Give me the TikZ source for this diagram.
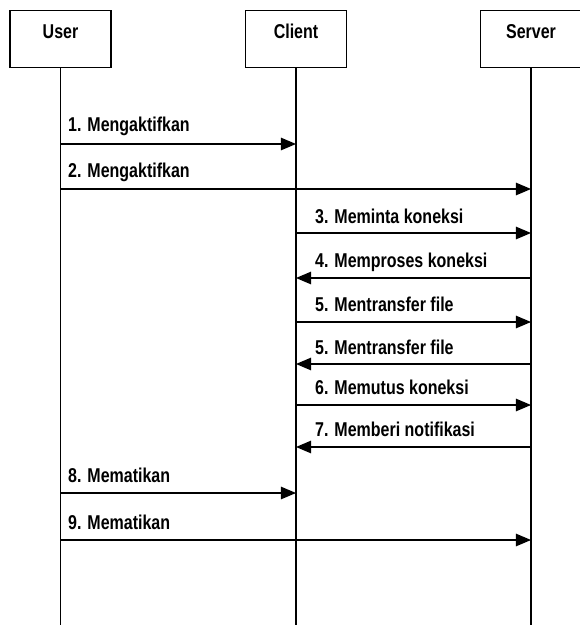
\documentclass[tikz,border=0pt]{standalone}
\usepackage{fontspec}
\setmainfont{Liberation Sans}[FakeStretch=0.8]
\usepackage{tikz}
\usetikzlibrary{calc}
\usetikzlibrary{arrows}
\tikzstyle{every node}=[font=\bfseries\fontsize{20}{22}\selectfont]
\tikzstyle{actor}=[draw,line width=1.3pt,minimum width=101pt,minimum height=57pt,anchor=north,text height=15pt,text depth=17pt,inner sep=0pt]
\tikzstyle{lifeline}=[line width=1.1pt]
\tikzstyle{msg}=[->,line width=2.6pt]
\tikzstyle{lbl}=[anchor=base west,inner sep=0pt]

\begin{document}
\begin{tikzpicture}[line cap=butt,line join=miter,>=triangle 45,x=1pt,y=1pt]
            \useasboundingbox (0,0) rectangle (580,-625);
            \node [actor] (user) at (60.5,-10) {User};
            \node [actor] (client) at (296,-10) {Client};
            \node [actor] (server) at (531,-10) {Server};
            \coordinate (userend) at (user.south |- 0,-625);
            \coordinate (clientend) at (client.south |- 0,-625);
            \coordinate (serverend) at (server.south |- 0,-625);
            \draw [lifeline] (user.south) -- (userend);
            \draw [lifeline] (client.south) -- (clientend);
            \draw [lifeline] (server.south) -- (serverend);
            % user -> client / server
            \draw [msg] (user |- 0,-144) -- (client |- 0,-144);
            \node [lbl] (m1) at (68,-131) {1. Mengaktifkan};
            \draw [msg] (user |- 0,-189) -- (server |- 0,-189);
            \node [lbl] (m2) at (68,-177) {2. Mengaktifkan};
            % client <-> server
            \draw [msg] (client |- 0,-233) -- (server |- 0,-233);
            \node [lbl] (m3) at (315,-223) {3. Meminta koneksi};
            \draw [msg] (server |- 0,-278) -- (client |- 0,-278);
            \node [lbl] (m4) at (315,-267) {4. Memproses koneksi};
            \draw [msg] (client |- 0,-322) -- (server |- 0,-322);
            \node [lbl] (m5) at (315,-311) {5. Mentransfer file};
            \draw [msg] (server |- 0,-364) -- (client |- 0,-364);
            \node [lbl] (m6) at (315,-354) {5. Mentransfer file};
            \draw [msg] (client |- 0,-405) -- (server |- 0,-405);
            \node [lbl] (m7) at (315,-394) {6. Memutus koneksi};
            \draw [msg] (server |- 0,-447) -- (client |- 0,-447);
            \node [lbl] (m8) at (315,-436) {7. Memberi notifikasi};
            % user -> client / server
            \draw [msg] (user |- 0,-493) -- (client |- 0,-493);
            \node [lbl] (m9) at (68,-482) {8. Mematikan};
            \draw [msg] (user |- 0,-540) -- (server |- 0,-540);
            \node [lbl] (m10) at (68,-529) {9. Mematikan};
\end{tikzpicture}
\end{document}
